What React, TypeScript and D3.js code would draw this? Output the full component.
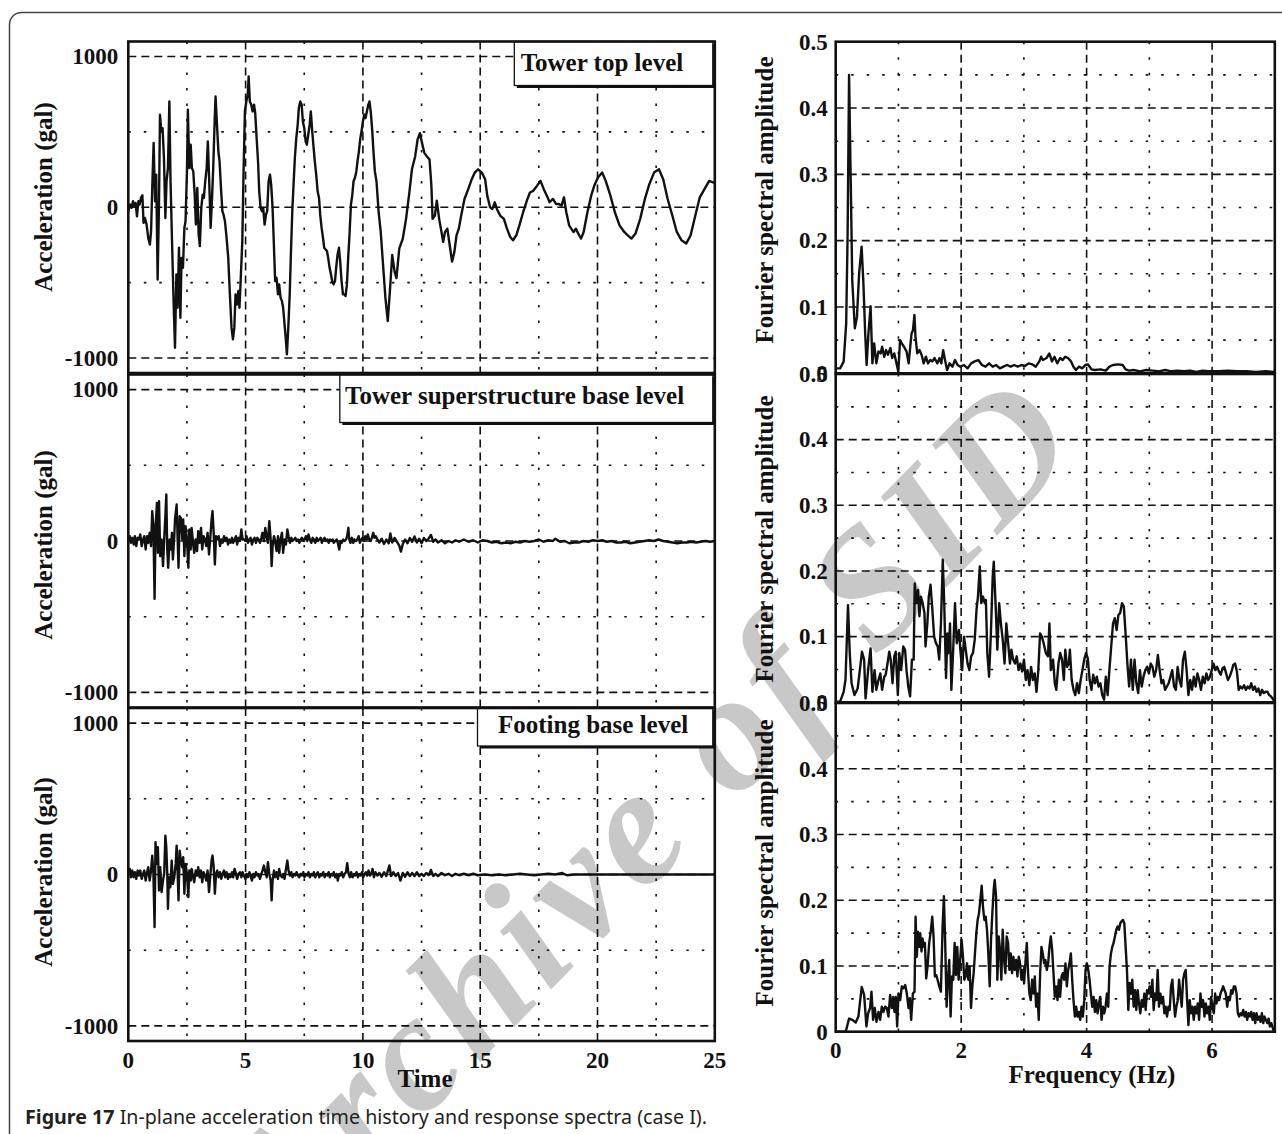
import React from "react";
import * as d3 from "d3";

// ---- axis ticks and grid values ----
const TIME_TICKS = [0, 5, 10, 15, 20, 25];
const TIME_MAJOR = [5, 10, 15, 20];
const TIME_MINOR = [2.5, 7.5, 12.5, 17.5, 22.5];
const ACC_TICKS = [-1000, 0, 1000];
const ACC_MINOR = [-500, 500];
const FREQ_TICKS = [0, 2, 4, 6];
const FREQ_MAJOR = [2, 4, 6];
const FREQ_MINOR = [1, 3, 5];
const AMP_TICKS = [0, 0.1, 0.2, 0.3, 0.4, 0.5];
const AMP_MAJOR = [0.1, 0.2, 0.3, 0.4];
const AMP_MINOR = [0.05, 0.15, 0.25, 0.35, 0.45];

const LEVELS = ["Tower top level", "Tower superstructure base level", "Footing base level"];

// ---- acceleration time histories [time (s), acceleration (gal)] ----
const TOWER_TOP: [number, number][] = [
  [0,-26],[0.07,18],[0.14,-4],[0.2,40],[0.26,7],[0.31,29],[0.37,-60],[0.43,40],[0.48,18],[0.54,62],[0.6,79],[0.65,-104],[0.71,-71],[0.78,-115],[0.85,-203],[0.92,-247],[0.97,-159],[1.02,128],[1.08,426],[1.14,40],[1.19,216],[1.25,-479],[1.31,40],[1.35,614],[1.41,503],[1.46,525],[1.52,327],[1.58,-71],[1.63,172],[1.69,260],[1.75,702],[1.8,172],[1.86,-203],[1.93,-623],[1.99,-932],[2.05,-446],[2.1,-667],[2.16,-269],[2.22,-733],[2.27,-336],[2.33,-402],[2.39,-137],[2.44,-93],[2.5,238],[2.54,647],[2.6,260],[2.66,415],[2.71,260],[2.77,238],[2.83,84],[2.88,-115],[2.94,128],[3.0,-181],[3.05,-258],[3.11,-4],[3.17,84],[3.22,62],[3.28,172],[3.34,260],[3.39,437],[3.45,172],[3.51,-137],[3.57,62],[3.62,260],[3.68,570],[3.72,735],[3.78,547],[3.84,371],[3.89,305],[3.95,128],[4.01,-26],[4.06,-49],[4.12,-93],[4.19,-203],[4.26,-336],[4.33,-578],[4.4,-799],[4.46,-876],[4.52,-799],[4.57,-578],[4.63,-645],[4.69,-556],[4.74,-667],[4.8,-446],[4.86,-225],[4.91,216],[4.97,636],[5.03,702],[5.09,746],[5.13,868],[5.18,702],[5.24,680],[5.3,636],[5.36,680],[5.41,625],[5.47,459],[5.53,305],[5.58,106],[5.64,-4],[5.7,-26],[5.75,-4],[5.81,-115],[5.87,-49],[5.92,-26],[5.98,172],[6.04,216],[6.09,150],[6.15,-4],[6.21,-269],[6.26,-490],[6.32,-468],[6.38,-578],[6.43,-512],[6.49,-600],[6.55,-623],[6.6,-667],[6.66,-777],[6.72,-887],[6.76,-976],[6.82,-799],[6.88,-578],[6.93,-313],[6.99,-26],[7.05,172],[7.1,327],[7.16,459],[7.22,547],[7.27,658],[7.33,702],[7.39,680],[7.44,570],[7.5,525],[7.56,437],[7.61,415],[7.67,481],[7.73,547],[7.78,636],[7.84,503],[7.9,393],[7.95,305],[8.01,216],[8.07,106],[8.13,62],[8.18,-49],[8.24,-137],[8.3,-203],[8.35,-269],[8.41,-280],[8.47,-291],[8.52,-336],[8.58,-402],[8.64,-446],[8.69,-490],[8.75,-512],[8.81,-490],[8.86,-402],[8.92,-313],[8.98,-269],[9.03,-358],[9.09,-490],[9.15,-578],[9.2,-578],[9.26,-589],[9.32,-512],[9.38,-313],[9.43,-181],[9.49,18],[9.55,84],[9.6,172],[9.66,194],[9.72,238],[9.77,305],[9.83,371],[9.89,459],[9.94,503],[10.0,570],[10.06,614],[10.11,592],[10.17,636],[10.23,680],[10.28,702],[10.34,625],[10.4,503],[10.45,371],[10.51,238],[10.58,172],[10.67,-33],[10.76,-164],[10.86,-383],[10.96,-602],[11.06,-755],[11.15,-558],[11.25,-317],[11.35,-427],[11.43,-470],[11.55,-274],[11.7,-208],[11.84,-77],[11.98,98],[12.09,252],[12.23,339],[12.33,449],[12.43,492],[12.52,427],[12.62,361],[12.72,339],[12.84,317],[12.92,142],[12.97,-77],[13.07,-55],[13.15,44],[13.25,-77],[13.35,-164],[13.42,-230],[13.5,-164],[13.6,-142],[13.7,-252],[13.8,-361],[13.9,-296],[13.99,-186],[14.09,-142],[14.19,-55],[14.33,55],[14.49,120],[14.64,186],[14.77,230],[14.91,252],[15.07,230],[15.21,186],[15.3,77],[15.42,0],[15.52,-11],[15.62,33],[15.71,-11],[15.85,-55],[16.01,-77],[16.14,-142],[16.28,-197],[16.4,-219],[16.54,-186],[16.67,-120],[16.83,-33],[16.99,44],[17.12,98],[17.26,109],[17.42,142],[17.57,175],[17.71,120],[17.84,77],[17.96,33],[18.1,55],[18.23,22],[18.35,22],[18.47,11],[18.57,66],[18.67,-33],[18.79,-120],[18.88,-142],[18.98,-164],[19.08,-142],[19.18,-175],[19.3,-208],[19.41,-164],[19.57,-33],[19.73,77],[19.86,142],[20.02,197],[20.2,230],[20.35,175],[20.55,77],[20.74,-33],[20.94,-120],[21.14,-164],[21.29,-186],[21.45,-208],[21.62,-175],[21.82,-77],[22.02,55],[22.21,153],[22.41,230],[22.62,252],[22.8,186],[22.99,55],[23.19,-55],[23.38,-164],[23.58,-219],[23.78,-241],[23.97,-186],[24.17,-55],[24.36,66],[24.56,120],[24.76,175],[24.95,164],[25,160]
];

const SUPER_BASE: [number, number][] = [
  [0,10],[0.06,32],[0.11,-12],[0.17,21],[0.23,-23],[0.28,32],[0.34,-34],[0.4,21],[0.45,10],[0.51,43],[0.57,-34],[0.63,10],[0.68,32],[0.74,-56],[0.8,32],[0.85,-12],[0.91,54],[0.97,-34],[1.02,197],[1.07,98],[1.12,-382],[1.16,76],[1.22,252],[1.26,-78],[1.31,263],[1.36,-100],[1.42,10],[1.48,-166],[1.53,10],[1.58,164],[1.62,307],[1.66,-56],[1.7,-177],[1.76,10],[1.82,-56],[1.86,54],[1.9,-122],[1.96,32],[1.99,142],[2.06,241],[2.1,32],[2.14,-177],[2.19,164],[2.24,153],[2.3,10],[2.34,142],[2.39,-100],[2.44,98],[2.5,10],[2.56,-177],[2.6,76],[2.66,-56],[2.7,87],[2.76,-12],[2.81,-78],[2.87,10],[2.93,-67],[2.98,65],[3.04,-12],[3.1,87],[3.15,-56],[3.21,32],[3.27,10],[3.32,-34],[3.38,54],[3.44,-89],[3.49,10],[3.55,142],[3.59,197],[3.64,54],[3.69,-155],[3.74,32],[3.79,10],[3.85,32],[3.91,-34],[3.96,10],[4.02,-12],[4.08,32],[4.13,0],[4.19,21],[4.25,-23],[4.3,10],[4.36,-12],[4.42,21],[4.47,-12],[4.53,10],[4.59,32],[4.64,-23],[4.7,21],[4.76,0],[4.82,76],[4.87,10],[4.93,10],[4.99,0],[5.04,32],[5.1,-12],[5.16,10],[5.21,21],[5.27,-23],[5.33,10],[5.38,21],[5.44,-12],[5.5,21],[5.55,10],[5.61,-12],[5.67,21],[5.72,54],[5.78,0],[5.84,87],[5.9,21],[5.95,-12],[6.01,131],[6.07,10],[6.11,-166],[6.15,-34],[6.21,32],[6.26,0],[6.32,-67],[6.38,32],[6.43,-78],[6.49,10],[6.55,54],[6.6,-78],[6.66,10],[6.72,-23],[6.78,76],[6.83,32],[6.89,-12],[6.95,21],[7.0,0],[7.06,10],[7.12,21],[7.17,0],[7.23,10],[7.29,-12],[7.34,10],[7.4,21],[7.46,0],[7.51,10],[7.57,32],[7.63,0],[7.68,43],[7.74,10],[7.8,-12],[7.86,21],[7.91,10],[7.97,-12],[8.03,21],[8.08,0],[8.14,10],[8.2,21],[8.25,-12],[8.31,10],[8.37,21],[8.42,0],[8.48,10],[8.54,-12],[8.59,10],[8.65,0],[8.71,10],[8.76,-12],[8.82,0],[8.88,10],[8.93,-12],[8.99,-56],[9.05,0],[9.1,-12],[9.16,10],[9.22,0],[9.28,10],[9.33,32],[9.38,87],[9.42,10],[9.47,-12],[9.53,21],[9.59,-12],[9.64,10],[9.7,0],[9.76,10],[9.82,32],[9.87,-12],[9.93,10],[9.99,21],[10.04,0],[10.1,32],[10.16,10],[10.21,43],[10.27,10],[10.33,0],[10.38,21],[10.44,54],[10.5,21],[10.55,32],[10.62,10],
  [10.7,-10],[10.8,15],[10.9,-20],[11.0,10],[11.1,-15],[11.17,50],[11.25,-10],[11.35,20],[11.45,-5],[11.55,-30],[11.62,-70],[11.7,-20],[11.8,10],[11.9,-15],[12.0,20],[12.1,-5],[12.2,30],[12.3,-10],[12.4,15],[12.5,-15],[12.6,20],[12.7,0],[12.8,15],[12.9,40],[13.0,-5],[13.1,10],[13.2,-10],[13.35,5],[13.5,-15],[13.65,0],[13.8,-10],[13.95,5],[14.1,-5],[14.3,10],[14.5,-5],[14.7,5],[14.9,-10],[15.1,5],[15.3,0],[15.5,-10],[15.7,-5],[15.9,-15],[16.1,-10],[16.3,-15],[16.5,-5],[16.7,-10],[16.9,0],[17.1,-5],[17.3,0],[17.5,10],[17.7,-5],[17.9,5],[18.1,0],[18.2,15],[18.4,-5],[18.6,0],[18.8,-15],[19.0,-10],[19.2,-10],[19.4,0],[19.6,-5],[19.8,5],[20.0,0],[20.2,5],[20.4,-5],[20.6,0],[20.8,-10],[21.0,-10],[21.2,-5],[21.4,-15],[21.6,-10],[21.8,-5],[22.0,0],[22.2,5],[22.4,0],[22.6,10],[22.8,0],[23.0,-5],[23.2,-10],[23.4,-15],[23.6,-10],[23.8,-10],[24.0,-5],[24.2,-10],[24.4,-5],[24.6,0],[24.8,-5],[25.0,0]
];

const FOOTING_BASE: [number, number][] = [
  [0,15],[0.06,37],[0.11,-18],[0.17,26],[0.23,-18],[0.28,15],[0.34,-29],[0.4,26],[0.45,-7],[0.51,26],[0.57,-29],[0.63,4],[0.68,26],[0.74,-40],[0.8,15],[0.85,48],[0.91,-40],[0.97,26],[1.02,125],[1.07,4],[1.12,-347],[1.16,213],[1.22,70],[1.26,180],[1.31,-105],[1.36,48],[1.42,-116],[1.48,-40],[1.53,4],[1.58,257],[1.62,180],[1.66,4],[1.69,-226],[1.73,-18],[1.79,-84],[1.85,92],[1.9,-62],[1.96,-18],[2.02,70],[2.06,191],[2.1,26],[2.14,-171],[2.19,158],[2.24,92],[2.3,48],[2.34,114],[2.39,-127],[2.44,70],[2.5,4],[2.56,-149],[2.6,26],[2.66,-40],[2.7,37],[2.76,-18],[2.81,-51],[2.87,26],[2.93,-7],[2.98,48],[3.04,-18],[3.1,26],[3.15,-51],[3.21,15],[3.27,-7],[3.32,-40],[3.38,26],[3.44,-116],[3.49,-18],[3.55,92],[3.59,125],[3.64,48],[3.69,-127],[3.74,4],[3.79,26],[3.85,-18],[3.91,15],[3.96,-29],[4.02,4],[4.08,26],[4.13,-18],[4.19,15],[4.25,-29],[4.3,4],[4.36,-18],[4.42,15],[4.47,-18],[4.53,37],[4.59,4],[4.64,-29],[4.7,4],[4.76,15],[4.82,-18],[4.87,15],[4.93,-7],[4.99,-29],[5.04,4],[5.1,-18],[5.16,15],[5.21,-7],[5.27,-40],[5.33,4],[5.38,-18],[5.44,15],[5.5,-7],[5.55,4],[5.61,-29],[5.67,4],[5.72,26],[5.78,59],[5.84,15],[5.9,-18],[5.95,81],[6.01,4],[6.07,-40],[6.11,-171],[6.15,-40],[6.21,26],[6.26,-18],[6.32,15],[6.38,-29],[6.43,37],[6.49,-7],[6.55,-18],[6.6,4],[6.66,-29],[6.72,37],[6.78,92],[6.83,26],[6.89,-7],[6.95,15],[7.0,-18],[7.06,4],[7.12,-7],[7.17,15],[7.23,-7],[7.29,-18],[7.34,4],[7.4,-7],[7.46,15],[7.51,-18],[7.57,4],[7.63,-7],[7.68,15],[7.74,-18],[7.8,4],[7.86,-7],[7.91,15],[7.97,-18],[8.03,4],[8.08,15],[8.14,-18],[8.2,4],[8.25,-7],[8.31,15],[8.37,-18],[8.42,4],[8.48,-7],[8.54,15],[8.59,-18],[8.65,4],[8.71,-7],[8.76,15],[8.82,-18],[8.88,4],[8.93,-40],[8.99,4],[9.05,-7],[9.1,15],[9.16,-18],[9.22,4],[9.28,15],[9.33,75],[9.39,4],[9.45,-18],[9.5,15],[9.56,-18],[9.62,4],[9.67,-7],[9.73,15],[9.79,-18],[9.84,4],[9.9,-7],[9.96,15],[10.01,-18],[10.07,4],[10.13,15],[10.18,-7],[10.24,26],[10.3,-7],[10.36,4],[10.41,37],[10.47,-18],[10.53,15],[10.62,-7],
  [10.7,10],[10.8,-15],[10.9,15],[11.0,-10],[11.13,60],[11.2,-10],[11.3,15],[11.4,-10],[11.5,10],[11.6,-40],[11.7,10],[11.8,-15],[11.9,15],[12.0,-10],[12.1,10],[12.2,-10],[12.3,15],[12.4,-10],[12.5,5],[12.6,-10],[12.7,10],[12.8,-5],[12.9,30],[13.0,-10],[13.1,5],[13.2,-10],[13.35,10],[13.5,-5],[13.65,5],[13.8,-10],[13.95,5],[14.1,-5],[14.3,5],[14.5,-5],[14.7,5],[14.9,-5],[15.2,0],[15.5,-5],[15.8,0],[16.1,-5],[16.4,0],[16.7,5],[17.0,0],[17.3,-5],[17.6,0],[17.9,5],[18.2,0],[18.5,10],[18.7,-5],[19.0,0],[19.5,0],[20,0],[21,0],[22,0],[23,0],[24,0],[25,0]
];

// ---- Fourier amplitude spectra [frequency (Hz), amplitude] ----
const SPEC_TOWER_TOP: [number, number][] = [
  [0.013,0.0075],[0.07,0.0075],[0.127,0.0175],[0.167,0.075],[0.19,0.21],[0.213,0.45],[0.236,0.311],[0.264,0.14],[0.305,0.068],[0.339,0.085],[0.373,0.15],[0.413,0.191],[0.442,0.135],[0.47,0.06],[0.493,0.0125],[0.522,0.06],[0.556,0.101],[0.585,0.015],[0.613,0.045],[0.648,0.015],[0.682,0.033],[0.717,0.03],[0.74,0.04],[0.774,0.025],[0.803,0.035],[0.832,0.028],[0.872,0.038],[0.9,0.023],[0.934,0.03],[0.969,0.015],[0.998,0.0025],[1.026,0.05],[1.054,0.045],[1.089,0.04],[1.129,0.033],[1.163,0.015],[1.209,0.06],[1.232,0.065],[1.255,0.088],[1.272,0.055],[1.3,0.03],[1.335,0.035],[1.369,0.028],[1.403,0.015],[1.438,0.025],[1.472,0.015],[1.506,0.02],[1.541,0.018],[1.575,0.023],[1.621,0.015],[1.655,0.023],[1.684,0.015],[1.713,0.035],[1.747,0.018],[1.776,0.005],[1.816,0.015],[1.862,0.01],[1.902,0.02],[1.942,0.0125],[1.987,0.01],[2.045,0.0125],[2.102,0.0075],[2.159,0.015],[2.216,0.018],[2.274,0.02],[2.331,0.0125],[2.388,0.01],[2.445,0.015],[2.503,0.01],[2.56,0.0125],[2.617,0.0075],[2.674,0.01],[2.731,0.0125],[2.789,0.01],[2.846,0.0125],[2.903,0.01],[2.96,0.0125],[3.017,0.011],[3.075,0.015],[3.132,0.0135],[3.189,0.01],[3.246,0.018],[3.275,0.025],[3.303,0.02],[3.361,0.023],[3.406,0.03],[3.447,0.018],[3.487,0.025],[3.532,0.015],[3.578,0.023],[3.618,0.02],[3.658,0.025],[3.704,0.023],[3.75,0.018],[3.79,0.01],[3.83,0.005],[3.876,0.01],[3.933,0.0075],[3.979,0.0125],[4.019,0.0135],[4.048,0.01],[4.077,0.006],[4.134,0.005],[4.22,0.006],[4.306,0.004],[4.363,0.01],[4.421,0.0125],[4.507,0.0135],[4.575,0.0125],[4.621,0.006],[4.678,0.004],[4.75,0.005],[4.85,0.003],[4.95,0.005],[5.05,0.004],[5.15,0.003],[5.25,0.005],[5.35,0.003],[5.45,0.004],[5.55,0.003],[5.65,0.004],[5.75,0.002],[5.85,0.004],[5.95,0.003],[6.1,0.003],[6.25,0.004],[6.4,0.003],[6.55,0.003],[6.7,0.002],[6.85,0.003],[7.0,0.002]
];

const SPEC_SUPER_BASE: [number, number][] = [
  [0.013,0.001],[0.07,0.001],[0.127,0.016],[0.156,0.034],[0.196,0.148],[0.224,0.075],[0.253,0.029],[0.299,0.011],[0.35,0.021],[0.385,0.049],[0.419,0.077],[0.453,0.065],[0.476,0.006],[0.522,0.054],[0.556,0.082],[0.585,0.016],[0.62,0.049],[0.648,0.019],[0.677,0.032],[0.711,0.044],[0.74,0.019],[0.774,0.039],[0.797,0.042],[0.826,0.059],[0.854,0.077],[0.877,0.065],[0.906,0.029],[0.934,0.07],[0.957,0.077],[0.991,0.011],[1.014,0.075],[1.043,0.049],[1.077,0.085],[1.106,0.08],[1.129,0.049],[1.157,0.024],[1.186,0.009],[1.215,0.065],[1.243,0.065],[1.26,0.181],[1.289,0.151],[1.312,0.171],[1.335,0.131],[1.358,0.161],[1.386,0.151],[1.415,0.136],[1.432,0.085],[1.461,0.12],[1.484,0.161],[1.512,0.179],[1.541,0.141],[1.569,0.1],[1.598,0.09],[1.627,0.085],[1.65,0.065],[1.678,0.12],[1.707,0.217],[1.73,0.151],[1.759,0.037],[1.781,0.105],[1.804,0.075],[1.822,0.12],[1.844,0.019],[1.873,0.08],[1.902,0.151],[1.93,0.09],[1.965,0.11],[1.987,0.08],[2.016,0.049],[2.045,0.1],[2.073,0.08],[2.102,0.059],[2.131,0.049],[2.159,0.07],[2.188,0.075],[2.216,0.095],[2.245,0.141],[2.268,0.161],[2.297,0.207],[2.32,0.151],[2.348,0.161],[2.377,0.151],[2.394,0.156],[2.417,0.075],[2.445,0.039],[2.474,0.105],[2.503,0.192],[2.52,0.214],[2.548,0.151],[2.577,0.08],[2.606,0.151],[2.634,0.12],[2.663,0.095],[2.692,0.059],[2.72,0.12],[2.749,0.09],[2.778,0.059],[2.801,0.08],[2.829,0.065],[2.858,0.059],[2.886,0.07],[2.915,0.049],[2.944,0.059],[2.972,0.047],[3.001,0.065],[3.03,0.034],[3.058,0.049],[3.087,0.026],[3.115,0.054],[3.144,0.034],[3.172,0.044],[3.201,0.016],[3.23,0.049],[3.258,0.105],[3.287,0.1],[3.315,0.09],[3.35,0.075],[3.384,0.07],[3.407,0.12],[3.43,0.049],[3.465,0.065],[3.493,0.029],[3.516,0.019],[3.551,0.059],[3.579,0.075],[3.608,0.065],[3.637,0.034],[3.66,0.08],[3.688,0.054],[3.717,0.059],[3.733,0.08],[3.762,0.034],[3.791,0.019],[3.819,0.011],[3.848,0.029],[3.876,0.014],[3.905,0.034],[3.933,0.049],[3.962,0.065],[3.991,0.075],[4.019,0.067],[4.048,0.034],[4.077,0.019],[4.105,0.042],[4.134,0.029],[4.163,0.039],[4.191,0.024],[4.22,0.029],[4.249,0.011],[4.278,0.004],[4.306,0.039],[4.335,0.011],[4.363,0.049],[4.392,0.085],[4.421,0.12],[4.449,0.128],[4.478,0.11],[4.507,0.133],[4.535,0.136],[4.564,0.151],[4.593,0.146],[4.621,0.105],[4.65,0.059],[4.678,0.024],[4.707,0.065],[4.736,0.019],[4.764,0.065],[4.793,0.029],[4.822,0.014],[4.85,0.049],[4.879,0.024],[4.907,0.039],[4.936,0.049],[4.965,0.054],[4.993,0.044],[5.022,0.059],[5.051,0.054],[5.079,0.039],[5.108,0.049],[5.136,0.072],[5.165,0.049],[5.194,0.029],[5.222,0.034],[5.251,0.019],[5.28,0.024],[5.308,0.029],[5.337,0.039],[5.365,0.049],[5.394,0.024],[5.423,0.019],[5.451,0.054],[5.48,0.034],[5.509,0.024],[5.537,0.065],[5.566,0.077],[5.594,0.049],[5.623,0.011],[5.652,0.034],[5.68,0.019],[5.709,0.039],[5.738,0.024],[5.766,0.044],[5.795,0.034],[5.823,0.019],[5.852,0.039],[5.881,0.029],[5.909,0.044],[5.938,0.034],[5.966,0.039],[5.995,0.049],[6.024,0.059],[6.052,0.049],[6.081,0.054],[6.109,0.047],[6.138,0.042],[6.167,0.052],[6.195,0.054],[6.224,0.044],[6.253,0.034],[6.281,0.039],[6.31,0.047],[6.338,0.057],[6.367,0.059],[6.396,0.047],[6.424,0.019],[6.453,0.024],[6.481,0.021],[6.51,0.026],[6.539,0.019],[6.567,0.024],[6.596,0.021],[6.625,0.029],[6.653,0.019],[6.682,0.024],[6.71,0.016],[6.739,0.021],[6.768,0.011],[6.796,0.019],[6.825,0.014],[6.853,0.016],[6.882,0.016],[6.911,0.011],[6.939,0.009],[6.997,0.001]
];

const SPEC_FOOTING_BASE: [number, number][] = [
  [0,0],[0.16,0],[0.213,0.02],[0.266,0.018],[0.319,0.014],[0.362,0.023],[0.389,0.046],[0.415,0.068],[0.453,0.056],[0.49,0.008],[0.517,0.028],[0.548,0.036],[0.57,0.061],[0.596,0.018],[0.623,0.036],[0.65,0.015],[0.682,0.03],[0.708,0.018],[0.735,0.038],[0.761,0.03],[0.788,0.038],[0.815,0.036],[0.841,0.023],[0.868,0.056],[0.895,0.036],[0.916,0.053],[0.937,0.03],[0.958,0.053],[0.98,0.008],[1.001,0.058],[1.028,0.048],[1.054,0.069],[1.081,0.066],[1.108,0.071],[1.134,0.058],[1.161,0.036],[1.182,0.051],[1.203,0.018],[1.23,0.058],[1.257,0.061],[1.273,0.175],[1.294,0.114],[1.31,0.152],[1.331,0.129],[1.347,0.15],[1.368,0.122],[1.384,0.142],[1.406,0.129],[1.422,0.135],[1.443,0.081],[1.464,0.099],[1.491,0.135],[1.518,0.155],[1.539,0.175],[1.56,0.145],[1.581,0.084],[1.603,0.086],[1.624,0.079],[1.651,0.069],[1.677,0.061],[1.704,0.16],[1.725,0.206],[1.747,0.129],[1.768,0.038],[1.789,0.079],[1.81,0.109],[1.832,0.023],[1.853,0.084],[1.874,0.079],[1.896,0.135],[1.917,0.086],[1.938,0.129],[1.96,0.079],[1.981,0.104],[2.007,0.14],[2.029,0.114],[2.05,0.079],[2.071,0.084],[2.093,0.104],[2.114,0.079],[2.135,0.099],[2.157,0.036],[2.178,0.069],[2.199,0.089],[2.22,0.119],[2.242,0.15],[2.263,0.17],[2.284,0.18],[2.306,0.2],[2.327,0.222],[2.348,0.19],[2.37,0.17],[2.391,0.175],[2.412,0.155],[2.433,0.119],[2.455,0.069],[2.476,0.14],[2.497,0.18],[2.519,0.216],[2.535,0.231],[2.556,0.206],[2.577,0.079],[2.599,0.145],[2.62,0.124],[2.641,0.079],[2.662,0.155],[2.684,0.109],[2.705,0.089],[2.726,0.145],[2.748,0.135],[2.769,0.094],[2.79,0.119],[2.812,0.089],[2.833,0.114],[2.854,0.094],[2.875,0.109],[2.897,0.084],[2.918,0.114],[2.939,0.104],[2.961,0.079],[2.982,0.094],[3.003,0.074],[3.024,0.104],[3.046,0.135],[3.067,0.089],[3.088,0.058],[3.11,0.048],[3.131,0.079],[3.152,0.058],[3.174,0.084],[3.195,0.038],[3.216,0.058],[3.237,0.018],[3.259,0.089],[3.28,0.129],[3.301,0.119],[3.323,0.104],[3.344,0.109],[3.365,0.094],[3.387,0.104],[3.408,0.129],[3.429,0.145],[3.451,0.124],[3.472,0.089],[3.493,0.053],[3.514,0.069],[3.536,0.048],[3.557,0.079],[3.578,0.053],[3.6,0.084],[3.621,0.089],[3.642,0.079],[3.663,0.104],[3.685,0.069],[3.706,0.094],[3.727,0.104],[3.749,0.119],[3.77,0.079],[3.791,0.048],[3.813,0.023],[3.834,0.038],[3.855,0.023],[3.876,0.03],[3.898,0.018],[3.919,0.038],[3.94,0.023],[3.962,0.048],[3.983,0.094],[4.004,0.104],[4.026,0.094],[4.047,0.079],[4.068,0.058],[4.089,0.038],[4.111,0.053],[4.132,0.03],[4.153,0.048],[4.175,0.028],[4.196,0.043],[4.217,0.053],[4.239,0.018],[4.26,0.038],[4.281,0.028],[4.302,0.038],[4.324,0.058],[4.345,0.038],[4.366,0.099],[4.388,0.119],[4.409,0.129],[4.43,0.135],[4.452,0.145],[4.473,0.155],[4.494,0.16],[4.515,0.155],[4.537,0.165],[4.558,0.168],[4.579,0.17],[4.601,0.165],[4.622,0.129],[4.643,0.094],[4.665,0.033],[4.686,0.074],[4.707,0.058],[4.728,0.079],[4.75,0.038],[4.771,0.063],[4.792,0.033],[4.814,0.063],[4.835,0.043],[4.856,0.028],[4.878,0.048],[4.899,0.038],[4.92,0.058],[4.941,0.033],[4.963,0.063],[4.984,0.058],[5.005,0.069],[5.027,0.053],[5.048,0.079],[5.069,0.033],[5.09,0.058],[5.112,0.048],[5.133,0.094],[5.154,0.038],[5.176,0.058],[5.197,0.043],[5.218,0.053],[5.24,0.028],[5.261,0.038],[5.282,0.023],[5.304,0.038],[5.325,0.033],[5.346,0.069],[5.367,0.079],[5.389,0.048],[5.41,0.023],[5.431,0.038],[5.453,0.048],[5.474,0.079],[5.495,0.058],[5.516,0.038],[5.538,0.079],[5.559,0.089],[5.58,0.094],[5.602,0.048],[5.623,0.01],[5.644,0.048],[5.666,0.028],[5.687,0.038],[5.708,0.018],[5.729,0.038],[5.751,0.028],[5.772,0.043],[5.793,0.018],[5.815,0.058],[5.836,0.038],[5.857,0.048],[5.879,0.023],[5.9,0.043],[5.921,0.028],[5.942,0.038],[5.964,0.018],[5.985,0.053],[6.006,0.038],[6.028,0.028],[6.049,0.058],[6.07,0.043],[6.092,0.053],[6.113,0.048],[6.134,0.058],[6.155,0.063],[6.177,0.069],[6.198,0.063],[6.219,0.058],[6.241,0.038],[6.262,0.053],[6.283,0.048],[6.305,0.063],[6.326,0.058],[6.347,0.069],[6.368,0.069],[6.39,0.058],[6.411,0.028],[6.432,0.023],[6.454,0.028],[6.475,0.025],[6.496,0.033],[6.518,0.023],[6.539,0.03],[6.56,0.018],[6.581,0.028],[6.603,0.023],[6.624,0.03],[6.645,0.018],[6.667,0.028],[6.688,0.013],[6.709,0.028],[6.731,0.018],[6.752,0.023],[6.773,0.015],[6.794,0.028],[6.816,0.013],[6.837,0.023],[6.858,0.018],[6.88,0.013],[6.901,0.02],[6.922,0.008],[6.944,0.013],[6.976,0.003],[7.0,0]
];

const TIME_SERIES = [TOWER_TOP, SUPER_BASE, FOOTING_BASE];
const SPECTRA = [SPEC_TOWER_TOP, SPEC_SUPER_BASE, SPEC_FOOTING_BASE];

// ---- layout ----
const W = 1282;
const H = 1134;
const SERIF = '"Liberation Serif", "Times New Roman", Times, serif';
const INK = "#111";

const LEFT_X = [128.3, 714.8];
const LEFT_ROWS = [
  { top: 41.5, bottom: 373, labelY: 197 },
  { top: 374.5, bottom: 707.5, labelY: 545 },
  { top: 708, bottom: 1041, labelY: 872 },
];
const LEGEND_BOXES = [
  { x: 514.3, w: 198.5, h: 44, tx: 520.7, ty: 71 },
  { x: 339.8, w: 373, h: 48, tx: 345, ty: 404 },
  { x: 477.5, w: 235.3, h: 38, tx: 498, ty: 733 },
];
const RIGHT_X = [835.7, 1274.8];
const RIGHT_ROWS = [
  { top: 41.7, bottom: 373.3, labelY: 200 },
  { top: 374, bottom: 702.3, labelY: 539 },
  { top: 703, bottom: 1031.7, labelY: 863 },
];

const DASH = "8 5";
const DOT = "2.5 13";
const CURVE_W = 2.4;

function TimePanel({ idx }: { idx: number }) {
  const row = LEFT_ROWS[idx];
  const x = d3.scaleLinear().domain([0, 25]).range(LEFT_X);
  const y = d3.scaleLinear().domain([-1100, 1100]).range([row.bottom, row.top]);
  const line = d3
    .line<[number, number]>()
    .x((d) => x(d[0]))
    .y((d) => y(d[1]));
  const box = LEGEND_BOXES[idx];
  const showX = idx === LEFT_ROWS.length - 1;
  const clipId = `tclip${idx}`;
  return (
    <g>
      <clipPath id={clipId}>
        <rect x={x(0)} y={row.top} width={x(25) - x(0)} height={row.bottom - row.top} />
      </clipPath>
      {TIME_MINOR.map((t) => (
        <line key={`vm${t}`} x1={x(t)} x2={x(t)} y1={row.top} y2={row.bottom} stroke={INK} strokeWidth={1.6} strokeDasharray={DOT} />
      ))}
      {TIME_MAJOR.map((t) => (
        <line key={`vM${t}`} x1={x(t)} x2={x(t)} y1={row.top} y2={row.bottom} stroke={INK} strokeWidth={1.6} strokeDasharray={DASH} />
      ))}
      {ACC_MINOR.map((v) => (
        <line key={`hm${v}`} x1={x(0)} x2={x(25)} y1={y(v)} y2={y(v)} stroke={INK} strokeWidth={1.6} strokeDasharray={DOT} />
      ))}
      {ACC_TICKS.map((v) => (
        <line key={`hM${v}`} x1={x(0)} x2={x(25)} y1={y(v)} y2={y(v)} stroke={INK} strokeWidth={1.6} strokeDasharray={DASH} />
      ))}
      <path d={line(TIME_SERIES[idx]) || ""} fill="none" stroke={INK} strokeWidth={CURVE_W} strokeLinejoin="round" clipPath={`url(#${clipId})`} />
      {/* label box with drop shadow */}
      <rect x={box.x + 2.5} y={row.top + 2.5} width={box.w} height={box.h} fill={INK} />
      <rect x={box.x} y={row.top} width={box.w} height={box.h} fill="#fff" stroke={INK} strokeWidth={1.3} />
      <text x={box.tx} y={box.ty} fontFamily={SERIF} fontWeight="bold" fontSize={25} fill={INK}>
        {LEVELS[idx]}
      </text>
      <rect x={x(0)} y={row.top} width={x(25) - x(0)} height={row.bottom - row.top} fill="none" stroke={INK} strokeWidth={2.6} />
      {ACC_TICKS.map((v) => (
        <text key={`yl${v}`} x={x(0) - 10} y={y(v) + 7.8} textAnchor="end" fontFamily={SERIF} fontWeight="bold" fontSize={23} fill={INK}>
          {String(v)}
        </text>
      ))}
      {showX &&
        TIME_TICKS.map((t) => (
          <text key={`xl${t}`} x={x(t)} y={row.bottom + 27} textAnchor="middle" fontFamily={SERIF} fontWeight="bold" fontSize={23} fill={INK}>
            {String(t)}
          </text>
        ))}
      {showX && (
        <text x={425} y={row.bottom + 46} textAnchor="middle" fontFamily={SERIF} fontWeight="bold" fontSize={25} fill={INK}>
          Time
        </text>
      )}
      <text transform={`translate(52,${row.labelY}) rotate(-90)`} textAnchor="middle" fontFamily={SERIF} fontWeight="bold" fontSize={25} fill={INK}>
        Acceleration (gal)
      </text>
    </g>
  );
}

function SpectrumPanel({ idx }: { idx: number }) {
  const row = RIGHT_ROWS[idx];
  const x = d3.scaleLinear().domain([0, 7]).range(RIGHT_X);
  const y = d3.scaleLinear().domain([0, 0.5]).range([row.bottom, row.top]);
  const line = d3
    .line<[number, number]>()
    .x((d) => x(d[0]))
    .y((d) => y(d[1]));
  const showX = idx === RIGHT_ROWS.length - 1;
  const clipId = `sclip${idx}`;
  return (
    <g>
      <clipPath id={clipId}>
        <rect x={x(0)} y={row.top} width={x(7) - x(0)} height={row.bottom - row.top} />
      </clipPath>
      {FREQ_MINOR.map((f) => (
        <line key={`vm${f}`} x1={x(f)} x2={x(f)} y1={row.top} y2={row.bottom} stroke={INK} strokeWidth={1.6} strokeDasharray={DOT} />
      ))}
      {FREQ_MAJOR.map((f) => (
        <line key={`vM${f}`} x1={x(f)} x2={x(f)} y1={row.top} y2={row.bottom} stroke={INK} strokeWidth={1.6} strokeDasharray={DASH} />
      ))}
      {AMP_MINOR.map((v) => (
        <line key={`hm${v}`} x1={x(0)} x2={x(7)} y1={y(v)} y2={y(v)} stroke={INK} strokeWidth={1.6} strokeDasharray={DOT} />
      ))}
      {AMP_MAJOR.map((v) => (
        <line key={`hM${v}`} x1={x(0)} x2={x(7)} y1={y(v)} y2={y(v)} stroke={INK} strokeWidth={1.6} strokeDasharray={DASH} />
      ))}
      <path d={line(SPECTRA[idx]) || ""} fill="none" stroke={INK} strokeWidth={CURVE_W} strokeLinejoin="round" clipPath={`url(#${clipId})`} />
      <rect x={x(0)} y={row.top} width={x(7) - x(0)} height={row.bottom - row.top} fill="none" stroke={INK} strokeWidth={2.6} />
      {AMP_TICKS.map((v) => (
        <text key={`yl${v}`} x={x(0) - 8} y={y(v) + 7.8} textAnchor="end" fontFamily={SERIF} fontWeight="bold" fontSize={23} fill={INK}>
          {String(v)}
        </text>
      ))}
      {showX &&
        FREQ_TICKS.map((f) => (
          <text key={`xl${f}`} x={x(f)} y={row.bottom + 26.5} textAnchor="middle" fontFamily={SERIF} fontWeight="bold" fontSize={23} fill={INK}>
            {String(f)}
          </text>
        ))}
      {showX && (
        <text x={1092} y={row.bottom + 51} textAnchor="middle" fontFamily={SERIF} fontWeight="bold" fontSize={25} fill={INK}>
          Frequency (Hz)
        </text>
      )}
      <text transform={`translate(773,${row.labelY}) rotate(-90)`} textAnchor="middle" fontFamily={SERIF} fontWeight="bold" fontSize={25} fill={INK}>
        Fourier spectral amplitude
      </text>
    </g>
  );
}

export default function App() {
  return (
    <svg
      width={W}
      height={H}
      viewBox={`0 0 ${W} ${H}`}
      style={{ position: "absolute", left: 0, top: 0, display: "block", background: "#fff" }}
    >
      {/* background watermark */}
      <text
        transform="translate(687,851) rotate(-45.5)"
        textAnchor="middle"
        fontFamily={SERIF}
        fontStyle="italic"
        fontWeight="bold"
        fontSize={168}
        letterSpacing={7}
        fill="#c8c8c8"
      >
        Archive of SID
      </text>
      <rect x={9.5} y={12.5} width={1300} height={1160} rx={12} fill="none" stroke="#444" strokeWidth={1.5} />
      {[2, 1, 0].map((i) => (
        <TimePanel key={`t${i}`} idx={i} />
      ))}
      {[2, 1, 0].map((i) => (
        <SpectrumPanel key={`s${i}`} idx={i} />
      ))}
      <text x={25} y={1124} fontFamily='"Noto Sans", "Open Sans", sans-serif' fontSize={19} fill="#231f20" textLength={682} lengthAdjust="spacingAndGlyphs">
        <tspan fontWeight="bold">Figure 17</tspan> In-plane acceleration time history and response spectra (case I).
      </text>
    </svg>
  );
}
